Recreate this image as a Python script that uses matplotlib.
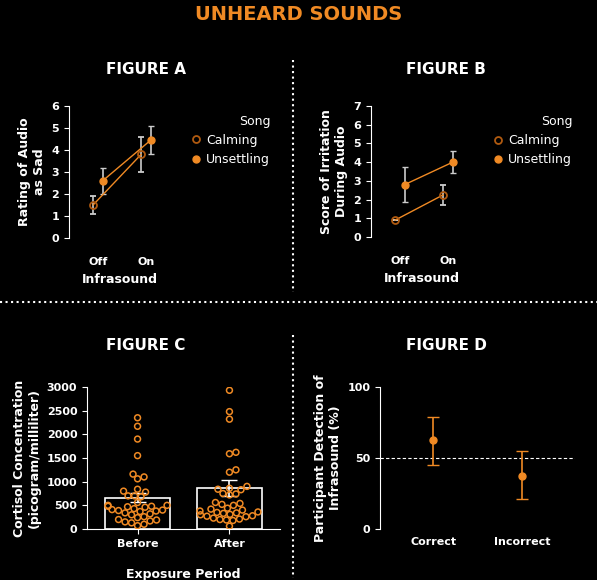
import matplotlib
matplotlib.use("Agg")
import matplotlib.pyplot as plt
from matplotlib.lines import Line2D
import numpy as np

OR = "#f08a24"
DK = "#b05a10"
W = "white"

# Figure A
condA = ["Off", "On"]
calmA = [1.5, 3.8]; calmA_err = [0.4, 0.8]
unsA = [2.6, 4.45]; unsA_err = [0.6, 0.65]
# Figure B
calmB = [0.9, 2.25]; calmB_err = [0.0, 0.55]
unsB = [2.8, 4.0]; unsB_err = [0.95, 0.6]
# Figure C
before = [2350, 2170, 1900, 1550, 1160, 1060, 1100, 840, 800, 780, 700, 680, 700,
          560, 500, 480, 470, 480, 460, 500, 430, 410, 390, 380, 370, 400, 340, 320,
          300, 260, 240, 200, 190, 170, 150, 130, 100, 70]
after = [2930, 2480, 2320, 1620, 1590, 1250, 1200, 900, 860, 830, 840, 750, 720, 740,
         560, 540, 520, 500, 440, 420, 400, 380, 360, 350, 340, 330, 310, 300, 280,
         270, 260, 230, 210, 200, 190, 180, 60]
c_mean = [660, 860]; c_err = [100, 170]
# Figure D
d_cat = ["Correct", "Incorrect"]
d_val = [63, 37]; d_lo = [45, 21]; d_hi = [79, 55]

fig = plt.figure(figsize=(5.97, 5.80), dpi=100, facecolor="black")
fs = 597, 580
def ax_px(l, t, r, b):
    return fig.add_axes([l/fs[0], 1-b/fs[1], (r-l)/fs[0], (b-t)/fs[1]])

def style(ax):
    ax.set_facecolor("black")
    for s in ["top", "right"]:
        ax.spines[s].set_visible(False)
    for s in ["left", "bottom"]:
        ax.spines[s].set_color(W)
    ax.tick_params(colors=W, labelsize=8)
    for lab in ax.get_xticklabels() + ax.get_yticklabels():
        lab.set_fontweight("bold")

def lineplot(ax, calm, ce, uns, ue, ymax, ylabel):
    x = np.array([0, 1.0])
    ax.errorbar(x - 0.1, calm, yerr=ce, color=OR, lw=1, ecolor="#cccccc", elinewidth=1.2,
                capsize=2, marker="o", mfc="none", mec=DK, mew=1.3, ms=5, zorder=3)
    ax.errorbar(x + 0.1, uns, yerr=ue, color=OR, lw=1, ecolor="#cccccc", elinewidth=1.2,
                capsize=2, marker="o", mfc=OR, mec=OR, ms=5, zorder=3)
    ax.set_xlim(-0.6, 1.5)
    ax.set_ylim(0, ymax)
    ax.set_yticks(range(ymax + 1))
    ax.spines["bottom"].set_visible(False)
    ax.set_xticks([0, 1]); ax.set_xticklabels(condA)
    ax.tick_params(axis="x", length=0, pad=14, labelsize=9)
    ax.set_xlabel("Infrasound", color=W, fontweight="bold", fontsize=9)
    ax.set_ylabel(ylabel, color=W, fontweight="bold", fontsize=9)
    style(ax)
    handles = [Line2D([], [], ls="none", marker="o", mfc="none", mec=DK, mew=1.3, ms=5),
               Line2D([], [], ls="none", marker="o", mfc=OR, mec=OR, ms=5)]
    leg = ax.legend(handles, ["Calming", "Unsettling"], loc="upper left",
                    bbox_to_anchor=(1.1, 1.02), frameon=False, title="Song",
                    fontsize=9, title_fontsize=9, labelcolor=W, handlelength=0.8,
                    handletextpad=0.4)
    leg.get_title().set_color(W)
    leg._legend_box.align = "right"

axA = ax_px(69, 106, 170, 238)
lineplot(axA, calmA, calmA_err, unsA, unsA_err, 6, "Rating of Audio\nas Sad")
axB = ax_px(371, 106, 472, 237)
lineplot(axB, calmB, calmB_err, unsB, unsB_err, 7, "Score of Irritation\nDuring Audio")

# Figure C
axC = ax_px(87, 387, 280, 529)
axC.bar([0, 1], c_mean, width=0.7, color="black", edgecolor=W, lw=1.2, zorder=1)
axC.errorbar([0, 1], c_mean, yerr=c_err, fmt="none", ecolor=W, capsize=6, lw=1.2, zorder=2)
xlim = (-0.55, 1.55)
pxx = 193 / (xlim[1] - xlim[0])   # px per x unit
pxy = 142 / 3000.0                # px per y unit
d = 6.5                           # marker diameter px
for i, vals in enumerate([before, after]):
    vals = np.array(vals, float)
    order = np.argsort(vals)
    pts = []
    xs = np.zeros(len(vals))
    for k in order:
        yp = vals[k] * pxy
        cands = sorted(set([0.0] + [s * j * 0.5 for j in range(1, 60) for s in (1, -1)]), key=abs)
        for c in cands:
            if all((c - px) ** 2 + (yp - py) ** 2 >= d * d for px, py in pts):
                break
        pts.append((c, yp))
        xs[k] = c / pxx
    axC.scatter(i + xs, vals, s=18, facecolors="none", edgecolors=OR, lw=1.1, zorder=3)
axC.set_xlim(*xlim)
axC.set_ylim(0, 3000)
axC.set_yticks(range(0, 3001, 500))
axC.set_xticks([0, 1]); axC.set_xticklabels(["Before", "After"])
axC.tick_params(axis="x", labelsize=9)
style(axC)
axC.set_ylabel("Cortisol Concentration\n(picogram/milliliter)", color=W, fontweight="bold", fontsize=9)
axC.set_xlabel("Exposure Period", color=W, fontweight="bold", fontsize=9, labelpad=14)

# Figure D
axD = ax_px(380, 387, 575, 529)
axD.errorbar([0, 1], d_val, yerr=[np.subtract(d_val, d_lo), np.subtract(d_hi, d_val)],
             fmt="o", color=OR, ms=5, capsize=4, lw=1.2, zorder=3)
axD.axhline(50, color=W, ls="--", lw=0.8, dashes=(3, 2))
axD.set_ylim(0, 100); axD.set_yticks([0, 50, 100])
axD.set_xlim(-0.6, 1.6)
axD.set_xticks([0, 1]); axD.set_xticklabels(d_cat)
axD.spines["bottom"].set_visible(False)
axD.tick_params(axis="x", length=0, pad=6, labelsize=9)
style(axD)
axD.set_ylabel("Participant Detection of\nInfrasound (%)", color=W, fontweight="bold", fontsize=9)

fig.text(0.5, 1 - 15/580, "UNHEARD SOUNDS", color=OR, ha="center", va="center", fontsize=14,
         fontweight="heavy")
for x, y, t in [(146, 70, "FIGURE A"), (446, 70, "FIGURE B"), (146, 345, "FIGURE C"), (446, 345, "FIGURE D")]:
    fig.text(x/597, 1 - y/580, t, color=W, ha="center", va="center", fontsize=11, fontweight="bold")

fig.add_artist(Line2D([293/597]*2, [1-60/580, 1-292/580], color=W, ls=":", lw=1.5))
fig.add_artist(Line2D([293/597]*2, [1-335/580, 1-578/580], color=W, ls=":", lw=1.5))
fig.add_artist(Line2D([0, 1], [1-302/580]*2, color=W, ls=":", lw=1.5))

fig.savefig("out.png", dpi=100, facecolor="black")
